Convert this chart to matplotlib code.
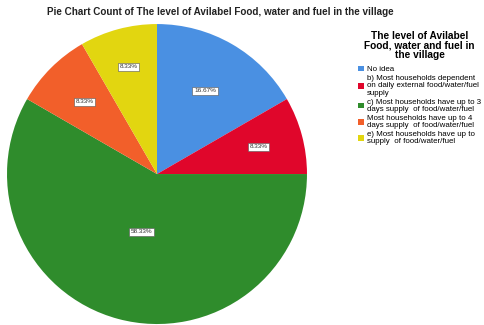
import numpy as np
import matplotlib
matplotlib.use('Agg')
import matplotlib.pyplot as plt
from matplotlib.patches import Patch

plt.rcParams['font.family'] = ['Liberation Sans', 'DejaVu Sans']

# answer categories and their counts
labels = ['No idea',
          'b) Most households dependent\non daily external food/water/fuel\nsupply',
          'c) Most households have up to 3\ndays supply  of food/water/fuel',
          'Most households have up to 4\ndays supply  of food/water/fuel',
          'e) Most households have up to\nsupply  of food/water/fuel']
counts = [2, 1, 7, 1, 1]
colors = ['#4a90e2', '#e0062b', '#2f8c2c', '#f25f2a', '#e2d610']
# how far out (fraction of radius) each percent label sits
label_r = [0.64, 0.70, 0.40, 0.68, 0.74]

fig = plt.figure(figsize=(4.85, 3.25), dpi=100)
ax = fig.add_axes([0.0144, 0.003, 0.6186, 0.923])

wedges, _ = ax.pie(counts, colors=colors, startangle=90, counterclock=False,
                   radius=1, wedgeprops=dict(linewidth=0))
ax.set_xlim(-1, 1)
ax.set_ylim(-1, 1)
ax.set_aspect('equal')
ax.axis('off')

total = sum(counts)
for w, c, r in zip(wedges, counts, label_r):
    mid = np.deg2rad((w.theta1 + w.theta2) / 2)
    ax.text(r * np.cos(mid), r * np.sin(mid), f'{100 * c / total:.2f}%',
            ha='center', va='center', fontsize=4.6, color='#333333',
            bbox=dict(boxstyle='square,pad=0.25', fc='white', ec='#555555', lw=0.4))

fig.text(0.455, 0.962, 'Pie Chart Count of The level of Avilabel Food, water and fuel in the village',
         ha='center', va='center', fontsize=7.1, fontweight='bold', color='#222222')

handles = [Patch(facecolor=c, edgecolor='none') for c in colors]
leg = fig.legend(handles, labels, loc='upper left', bbox_to_anchor=(0.732, 0.915),
                 frameon=False, fontsize=5.7, title='The level of Avilabel\nFood, water and fuel in\nthe village',
                 title_fontproperties=dict(size=7.3, weight='bold'),
                 handlelength=0.75, handleheight=0.75, handletextpad=0.35,
                 labelspacing=0.25, borderaxespad=0)
leg.get_title().set_multialignment('center')
leg.get_title().set_linespacing(0.95)
# a little extra room between the title and the first entry
leg._legend_box.sep = 4
for t in leg.get_texts():
    t.set_linespacing(1.05)

fig.savefig('out.png', dpi=100)
